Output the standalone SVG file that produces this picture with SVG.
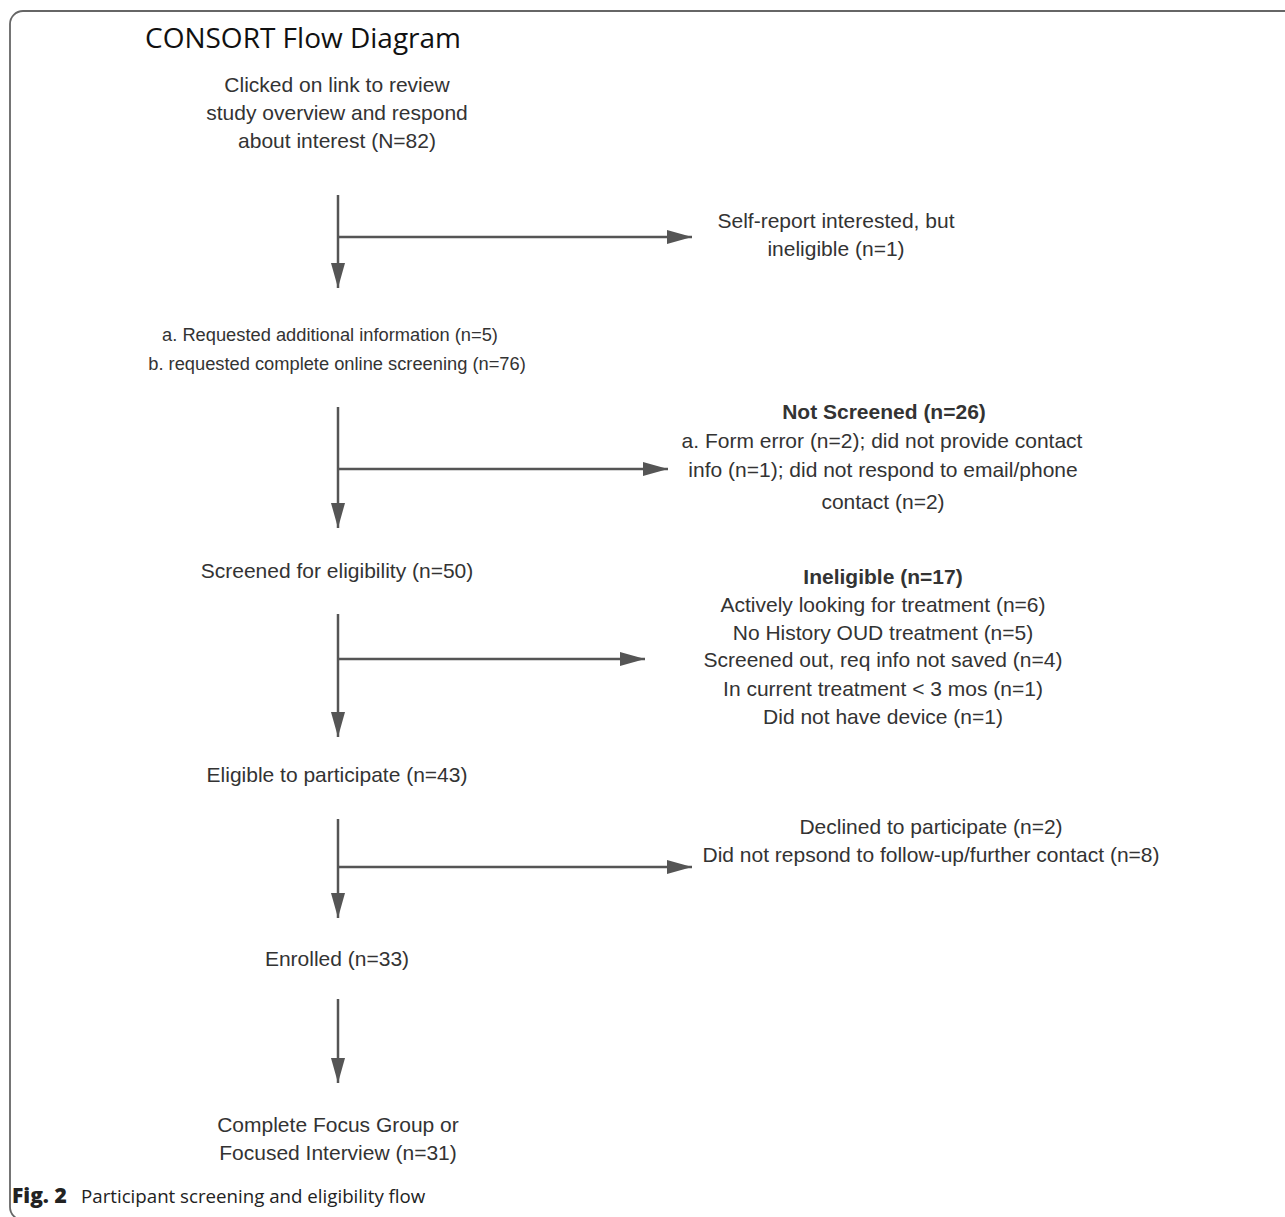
<svg xmlns="http://www.w3.org/2000/svg" width="1285" height="1217" viewBox="0 0 1285 1217">
<style>
.t{font-family:"Liberation Sans",Arial,sans-serif;font-size:21px;fill:#333;text-anchor:middle}
.s{font-size:18.3px}
.b{font-weight:bold}
.ln{stroke:#555;stroke-width:2.5;fill:none}
.title{font-family:"Open Sans","Liberation Sans",sans-serif;font-size:28px;fill:#111}
.cap{font-family:"Open Sans","Liberation Sans",sans-serif;font-size:18.7px;fill:#222}
</style>
<defs>
<marker id="ah" viewBox="0 0 25 14" refX="25" refY="7" markerWidth="25" markerHeight="14" markerUnits="userSpaceOnUse" orient="auto">
<path d="M0,0 L25,7 L0,14 Z" fill="#555"/>
</marker>
</defs>
<rect x="0" y="0" width="1285" height="1217" fill="#fff"/>
<rect x="10" y="11" width="1320" height="1209" rx="13" fill="none" stroke="#666" stroke-width="1.8"/>
<text class="title" x="145" y="48">CONSORT Flow Diagram</text>
<g id="connectors">
<path class="ln" d="M338,195 V288" marker-end="url(#ah)"/>
<path class="ln" d="M338,237 H692" marker-end="url(#ah)"/>
<path class="ln" d="M338,407 V528" marker-end="url(#ah)"/>
<path class="ln" d="M338,469 H668" marker-end="url(#ah)"/>
<path class="ln" d="M338,614 V737" marker-end="url(#ah)"/>
<path class="ln" d="M338,659 H645" marker-end="url(#ah)"/>
<path class="ln" d="M338,819 V918" marker-end="url(#ah)"/>
<path class="ln" d="M338,867 H692" marker-end="url(#ah)"/>
<path class="ln" d="M338,999 V1083" marker-end="url(#ah)"/>
</g>
<g id="n1"><text class="t" x="337" y="92">Clicked on link to review</text><text class="t" x="337" y="120">study overview and respond</text><text class="t" x="337" y="148">about interest (N=82)</text></g>
<g id="n1x"><text class="t" x="836" y="228">Self-report interested, but</text><text class="t" x="836" y="256">ineligible (n=1)</text></g>
<g id="n2"><text class="t s" x="330" y="341">a. Requested additional information (n=5)</text><text class="t s" x="337" y="370">b. requested complete online screening (n=76)</text></g>
<g id="n2x"><text class="t b" x="884" y="419">Not Screened (n=26)</text><text class="t" x="882" y="448">a. Form error (n=2); did not provide contact</text><text class="t" x="883" y="477">info (n=1); did not respond to email/phone</text><text class="t" x="883" y="509">contact (n=2)</text></g>
<g id="n3"><text class="t" x="337" y="578">Screened for eligibility (n=50)</text></g>
<g id="n3x"><text class="t b" x="883" y="584">Ineligible (n=17)</text><text class="t" x="883" y="612">Actively looking for treatment (n=6)</text><text class="t" x="883" y="640">No History OUD treatment (n=5)</text><text class="t" x="883" y="667">Screened out, req info not saved (n=4)</text><text class="t" x="883" y="696">In current treatment &lt; 3 mos (n=1)</text><text class="t" x="883" y="724">Did not have device (n=1)</text></g>
<g id="n4"><text class="t" x="337" y="782">Eligible to participate (n=43)</text></g>
<g id="n4x"><text class="t" x="931" y="834">Declined to participate (n=2)</text><text class="t" x="931" y="862">Did not repsond to follow-up/further contact (n=8)</text></g>
<g id="n5"><text class="t" x="337" y="966">Enrolled (n=33)</text></g>
<g id="n6"><text class="t" x="338" y="1132">Complete Focus Group or</text><text class="t" x="338" y="1160">Focused Interview (n=31)</text></g>
<text class="cap" y="1203"><tspan x="12" font-weight="800" font-size="21">Fig. 2</tspan><tspan x="81">Participant screening and eligibility flow</tspan></text>
</svg>
